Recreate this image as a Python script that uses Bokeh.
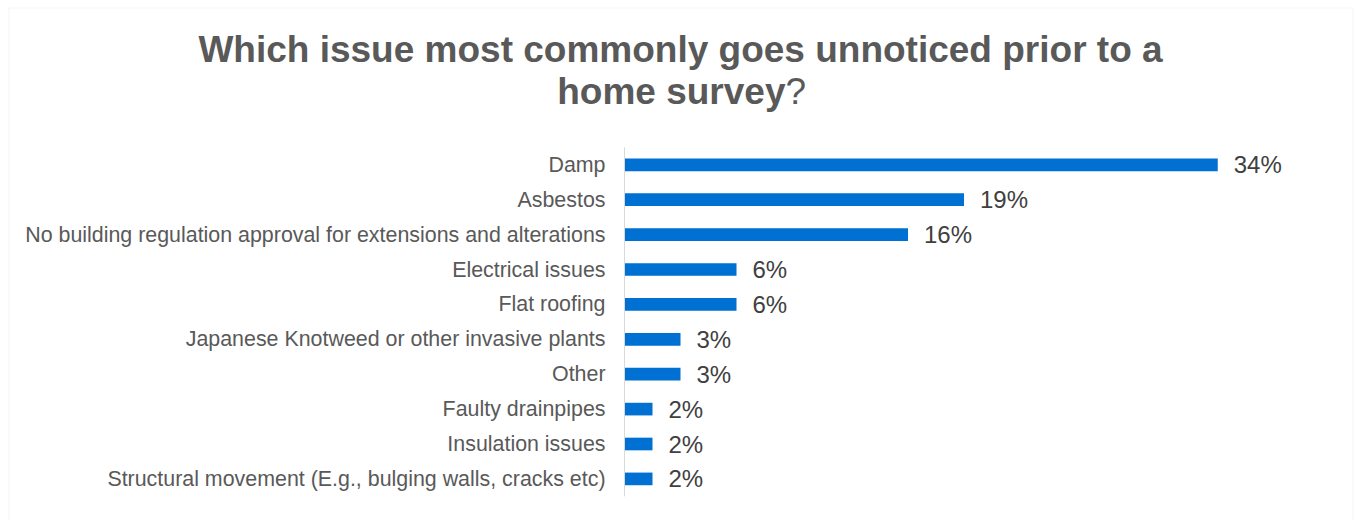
from bokeh.plotting import figure
from bokeh.models import Range1d, ColumnDataSource, BoxAnnotation
from bokeh.core.properties import value
from bokeh.embed import file_html
from bokeh.resources import INLINE

# ---------------- data ----------------
categories = [
    "Damp",
    "Asbestos",
    "No building regulation approval for extensions and alterations",
    "Electrical issues",
    "Flat roofing",
    "Japanese Knotweed or other invasive plants",
    "Other",
    "Faulty drainpipes",
    "Insulation issues",
    "Structural movement (E.g., bulging walls, cracks etc)",
]
shares = [33.9, 19.4, 16.2, 6.4, 6.4, 3.2, 3.2, 1.6, 1.6, 1.6]
share_labels = ["34%", "19%", "16%", "6%", "6%", "3%", "3%", "2%", "2%", "2%"]

title_line1 = "Which issue most commonly goes unnoticed prior to a"
title_line2 = "home survey"
title_mark = "?"

# ---------------- layout / style ----------------
W, H = 1355, 520
AXIS_PX = 624.0
PX_PER_UNIT = 17.5
ROW0_PX = 164.3
ROW_STEP = 34.9

FONT = value("Liberation Sans")
BAR = "#0070D2"
GREY = "#595959"
DARK = "#404040"
LINE = "#D9D9D9"


def dx(px):
    return (px - AXIS_PX) / PX_PER_UNIT


def dy(py):
    return (py - ROW0_PX) / ROW_STEP


p = figure(
    width=W, height=H, output_backend="svg", toolbar_location=None,
    x_range=Range1d(dx(0), dx(W)), y_range=Range1d(dy(H), dy(0)),
    x_axis_type=None, y_axis_type=None, min_border=0,
    outline_line_color=None, background_fill_color="white",
    border_fill_color="white",
)

rows = list(range(len(categories)))
src = ColumnDataSource(dict(row=rows, cat=categories, share=shares, lab=share_labels))

# bars
p.hbar(y="row", left=0, right="share", height=0.363, source=src,
       fill_color=BAR, line_color=None)

# vertical axis line
p.segment(x0=[0], y0=[rows[0] - 0.5], x1=[0], y1=[rows[-1] + 0.5],
          line_color=LINE, line_width=1)

# category labels
p.text(x=0, y="row", text="cat", source=src, x_offset=-19,
       text_align="right", text_baseline="middle", text_font=FONT,
       text_font_size="21.4px", text_color=GREY)

# value labels
p.text(x="share", y="row", text="lab", source=src, x_offset=16, y_offset=0,
       text_align="left", text_baseline="middle", text_font=FONT,
       text_font_size="24px", text_color=DARK)

# title
p.text(x=[dx(680)], y=[dy(49)], text=[title_line1], text_align="center",
       text_baseline="alphabetic", text_font=FONT, text_font_size="37px",
       text_font_style="bold", text_color=GREY)
p.text(x=[dx(785)], y=[dy(91)], text=[title_line2], text_align="right",
       text_baseline="alphabetic", text_font=FONT, text_font_size="37px",
       text_font_style="bold", text_color=GREY)
p.text(x=[dx(785)], y=[dy(91)], text=[title_mark], text_align="left",
       text_baseline="alphabetic", text_font=FONT, text_font_size="37px",
       text_font_style="normal", text_color=GREY)

# chart border
p.add_layout(BoxAnnotation(left=dx(8.5), right=dx(1352.5), top=dy(7.5), bottom=dy(530),
                           fill_color=None, line_color=LINE, line_width=1))

open("out.html", "w").write(file_html(p, INLINE))
